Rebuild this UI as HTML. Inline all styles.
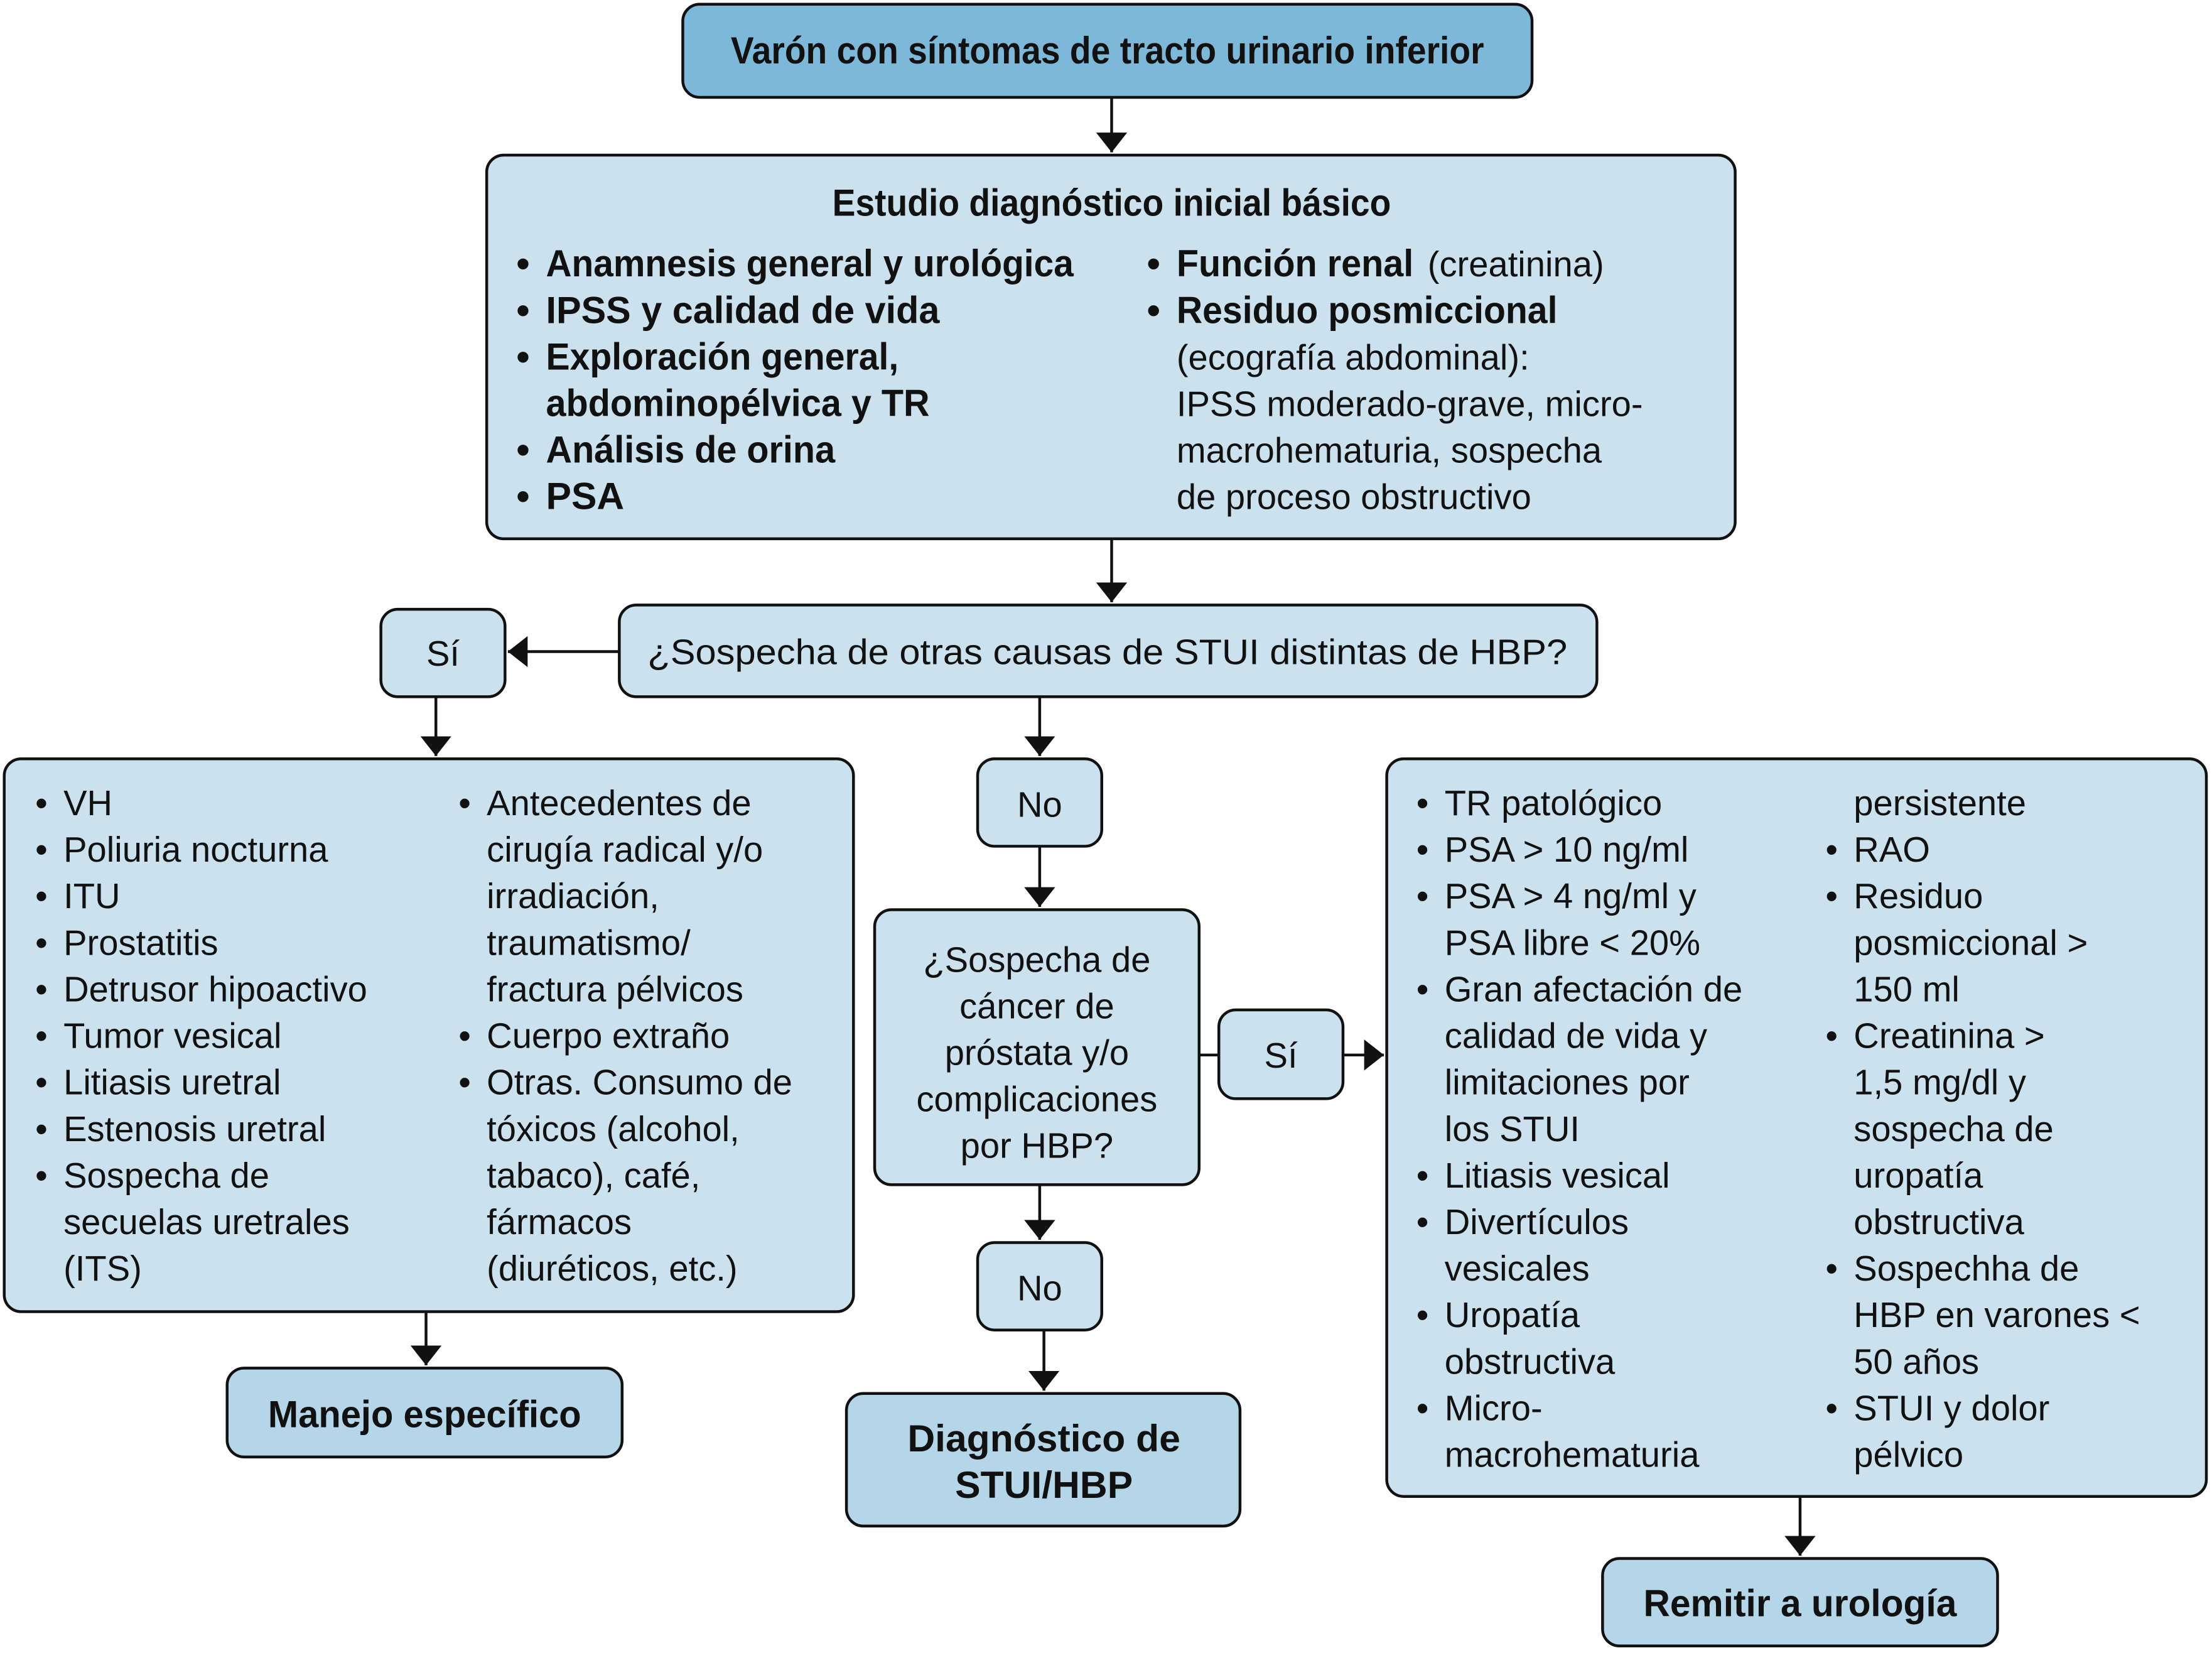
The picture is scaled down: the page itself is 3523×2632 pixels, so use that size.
<!DOCTYPE html>
<html><head><meta charset="utf-8"><style>
html,body{margin:0;padding:0;background:#fff;}
svg{display:block;}
.r{font-family:"Liberation Sans",sans-serif;font-size:25px;fill:#111;}
.b{font-family:"Liberation Sans Narrow","Liberation Sans",sans-serif;font-weight:bold;font-size:27px;fill:#111;}
.bx{stroke:#111;stroke-width:2;fill:#cbe2ee;}
.dk{stroke:#111;stroke-width:2;fill:#b5d6e8;}
.ln{stroke:#111;stroke-width:2;fill:none;}
</style></head><body>
<svg width="3523" height="2632" viewBox="0 0 1568 1172" preserveAspectRatio="none" xmlns="http://www.w3.org/2000/svg">
<defs><marker id="a" markerWidth="10" markerHeight="10" refX="9" refY="5" orient="auto" markerUnits="userSpaceOnUse"><path d="M0,0 L10,5 L0,10 z" fill="#111"/></marker>
<marker id="A" viewBox="0 0 10 10" markerWidth="14" markerHeight="22" refX="10" refY="5" orient="auto" markerUnits="userSpaceOnUse" preserveAspectRatio="none"><path d="M0,0 L10,5 L0,10 z" fill="#111"/></marker></defs>

<!-- boxes -->
<rect x="484" y="3" width="602" height="66" rx="12" stroke="#111" stroke-width="2" fill="#7db8d8"/>
<rect class="bx" x="345" y="110" width="885" height="272" rx="12"/>
<rect class="bx" x="439" y="429" width="693" height="65" rx="12"/>
<rect class="bx" x="270" y="432" width="88" height="62" rx="12"/>
<rect class="bx" x="3" y="538" width="602" height="392" rx="12"/>
<rect class="dk" x="161" y="970" width="280" height="63" rx="12"/>
<rect class="bx" x="693" y="538" width="88" height="62" rx="12"/>
<rect class="bx" x="620" y="645" width="230" height="195" rx="12"/>
<rect class="bx" x="864" y="716" width="88" height="63" rx="12"/>
<rect class="bx" x="983" y="538" width="581" height="523" rx="12"/>
<rect class="bx" x="693" y="881" width="88" height="62" rx="12"/>
<rect class="dk" x="600" y="988" width="279" height="94" rx="12"/>
<rect class="dk" x="1136" y="1105" width="280" height="62" rx="12"/>

<!-- connectors -->
<g class="ln">
<line x1="788" y1="69" x2="788" y2="108" marker-end="url(#A)"/>
<line x1="788" y1="382" x2="788" y2="427" marker-end="url(#A)"/>
<line x1="439" y1="462" x2="360" y2="462" marker-end="url(#A)"/>
<line x1="309" y1="494" x2="309" y2="536" marker-end="url(#A)"/>
<line x1="737" y1="494" x2="737" y2="536" marker-end="url(#A)"/>
<line x1="737" y1="600" x2="737" y2="643" marker-end="url(#A)"/>
<line x1="302" y1="930" x2="302" y2="968" marker-end="url(#A)"/>
<line x1="737" y1="840" x2="737" y2="879" marker-end="url(#A)"/>
<line x1="740" y1="943" x2="740" y2="986" marker-end="url(#A)"/>
<line x1="850" y1="748" x2="864" y2="748"/>
<line x1="952" y1="748" x2="981" y2="748" marker-end="url(#A)"/>
<line x1="1276" y1="1061" x2="1276" y2="1103" marker-end="url(#A)"/>
</g>

<!-- title -->
<text class="b" x="785" y="45" text-anchor="middle" font-size="25" textLength="534" lengthAdjust="spacingAndGlyphs">Varón con síntomas de tracto urinario inferior</text>

<!-- Estudio -->
<text class="b" x="788" y="153" text-anchor="middle" textLength="396" lengthAdjust="spacingAndGlyphs">Estudio diagnóstico inicial básico</text>
<g class="b">
<text x="366" y="196">•</text><text x="387" y="196" textLength="374" lengthAdjust="spacingAndGlyphs">Anamnesis general y urológica</text>
<text x="366" y="229">•</text><text x="387" y="229" textLength="279" lengthAdjust="spacingAndGlyphs">IPSS y calidad de vida</text>
<text x="366" y="262">•</text><text x="387" y="262" textLength="250" lengthAdjust="spacingAndGlyphs">Exploración general,</text>
<text x="387" y="295" textLength="272" lengthAdjust="spacingAndGlyphs">abdominopélvica y TR</text>
<text x="366" y="328">•</text><text x="387" y="328" textLength="205" lengthAdjust="spacingAndGlyphs">Análisis de orina</text>
<text x="366" y="361">•</text><text x="387" y="361">PSA</text>
<text x="813" y="196">•</text><text x="834" y="196" textLength="168" lengthAdjust="spacingAndGlyphs">Función renal</text>
<text x="813" y="229">•</text><text x="834" y="229" textLength="270" lengthAdjust="spacingAndGlyphs">Residuo posmiccional</text>
</g>
<g class="r">
<text x="1012" y="196">(creatinina)</text>
<text x="834" y="262">(ecografía abdominal):</text>
<text x="834" y="295">IPSS moderado-grave, micro-</text>
<text x="834" y="328">macrohematuria, sospecha</text>
<text x="834" y="361">de proceso obstructivo</text>
</g>

<!-- question 1 -->
<text class="r" x="785" y="471" text-anchor="middle" textLength="652" lengthAdjust="spacingAndGlyphs">¿Sospecha de otras causas de STUI distintas de HBP?</text>
<text class="r" x="314" y="472" text-anchor="middle">Sí</text>

<!-- left list -->
<g class="r">
<text x="25" y="578">•</text><text x="45" y="578">VH</text>
<text x="25" y="611">•</text><text x="45" y="611">Poliuria nocturna</text>
<text x="25" y="644">•</text><text x="45" y="644">ITU</text>
<text x="25" y="677">•</text><text x="45" y="677">Prostatitis</text>
<text x="25" y="710">•</text><text x="45" y="710">Detrusor hipoactivo</text>
<text x="25" y="743">•</text><text x="45" y="743">Tumor vesical</text>
<text x="25" y="776">•</text><text x="45" y="776">Litiasis uretral</text>
<text x="25" y="809">•</text><text x="45" y="809">Estenosis uretral</text>
<text x="25" y="842">•</text><text x="45" y="842">Sospecha de</text>
<text x="45" y="875">secuelas uretrales</text>
<text x="45" y="908">(ITS)</text>
<text x="325" y="578">•</text><text x="345" y="578">Antecedentes de</text>
<text x="345" y="611">cirugía radical y/o</text>
<text x="345" y="644">irradiación,</text>
<text x="345" y="677">traumatismo/</text>
<text x="345" y="710">fractura pélvicos</text>
<text x="325" y="743">•</text><text x="345" y="743">Cuerpo extraño</text>
<text x="325" y="776">•</text><text x="345" y="776">Otras. Consumo de</text>
<text x="345" y="809">tóxicos (alcohol,</text>
<text x="345" y="842">tabaco), café,</text>
<text x="345" y="875">fármacos</text>
<text x="345" y="908">(diuréticos, etc.)</text>
</g>
<text class="b" x="301" y="1012" text-anchor="middle" textLength="222" lengthAdjust="spacingAndGlyphs">Manejo específico</text>

<!-- middle -->
<g class="r" text-anchor="middle">
<text x="737" y="579">No</text>
<text x="735" y="689">¿Sospecha de</text>
<text x="735" y="722">cáncer de</text>
<text x="735" y="755">próstata y/o</text>
<text x="735" y="788">complicaciones</text>
<text x="735" y="821">por HBP?</text>
<text x="908" y="757">Sí</text>
<text x="737" y="922">No</text>
</g>
<g class="b" text-anchor="middle">
<text x="740" y="1029">Diagnóstico de</text>
<text x="740" y="1062">STUI/HBP</text>
<text x="1276" y="1146" textLength="222" lengthAdjust="spacingAndGlyphs">Remitir a urología</text>
</g>

<!-- right list -->
<g class="r">
<text x="1004" y="578">•</text><text x="1024" y="578">TR patológico</text>
<text x="1004" y="611">•</text><text x="1024" y="611">PSA &gt; 10 ng/ml</text>
<text x="1004" y="644">•</text><text x="1024" y="644">PSA &gt; 4 ng/ml y</text>
<text x="1024" y="677">PSA libre &lt; 20%</text>
<text x="1004" y="710">•</text><text x="1024" y="710">Gran afectación de</text>
<text x="1024" y="743">calidad de vida y</text>
<text x="1024" y="776">limitaciones por</text>
<text x="1024" y="809">los STUI</text>
<text x="1004" y="842">•</text><text x="1024" y="842">Litiasis vesical</text>
<text x="1004" y="875">•</text><text x="1024" y="875">Divertículos</text>
<text x="1024" y="908">vesicales</text>
<text x="1004" y="941">•</text><text x="1024" y="941">Uropatía</text>
<text x="1024" y="974">obstructiva</text>
<text x="1004" y="1007">•</text><text x="1024" y="1007">Micro-</text>
<text x="1024" y="1040">macrohematuria</text>
<text x="1314" y="578">persistente</text>
<text x="1294" y="611">•</text><text x="1314" y="611">RAO</text>
<text x="1294" y="644">•</text><text x="1314" y="644">Residuo</text>
<text x="1314" y="677">posmiccional &gt;</text>
<text x="1314" y="710">150 ml</text>
<text x="1294" y="743">•</text><text x="1314" y="743">Creatinina &gt;</text>
<text x="1314" y="776">1,5 mg/dl y</text>
<text x="1314" y="809">sospecha de</text>
<text x="1314" y="842">uropatía</text>
<text x="1314" y="875">obstructiva</text>
<text x="1294" y="908">•</text><text x="1314" y="908">Sospechha de</text>
<text x="1314" y="941">HBP en varones &lt;</text>
<text x="1314" y="974">50 años</text>
<text x="1294" y="1007">•</text><text x="1314" y="1007">STUI y dolor</text>
<text x="1314" y="1040">pélvico</text>
</g>
</svg>
</body></html>
